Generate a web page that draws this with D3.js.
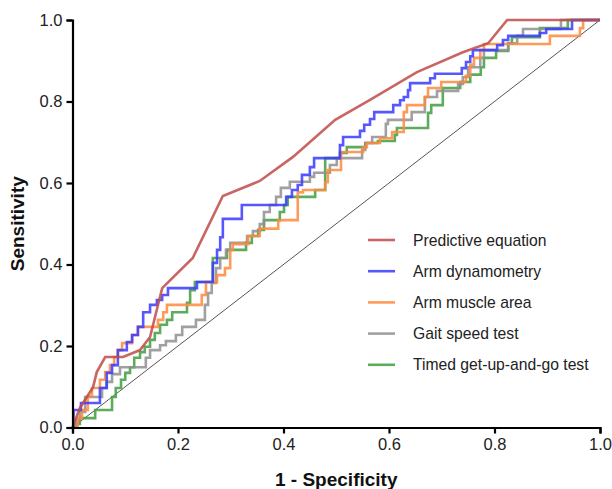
<!DOCTYPE html>
<html>
<head>
<meta charset="utf-8">
<script src="https://cdn.jsdelivr.net/npm/d3@7"></script>
<style>
  body { margin: 0; background: #fff; }
  text { font-family: "Liberation Sans", Arial, sans-serif; }
</style>
</head>
<body>
<div id="chart"></div>
<script>
// ROC curves, [1 - specificity, sensitivity]
const predictive = [[0,0],[0.014,0.048],[0.039,0.099],[0.046,0.136],[0.062,0.173],[0.096,0.173],[0.128,0.190],[0.147,0.222],[0.170,0.342],[0.228,0.416],[0.285,0.568],[0.355,0.605],[0.418,0.664],[0.498,0.755],[0.564,0.804],[0.653,0.872],[0.740,0.921],[0.788,0.943],[0.824,1],[1,1]];

const armDynamometry = [[0,0],[0.002,0],[0.002,0.043],[0.016,0.043],[0.016,0.060],[0.052,0.060],[0.052,0.097],[0.065,0.097],[0.065,0.134],[0.075,0.134],[0.075,0.153],[0.086,0.153],[0.086,0.190],[0.103,0.190],[0.103,0.210],[0.113,0.210],[0.113,0.227],[0.124,0.227],[0.124,0.247],[0.134,0.247],[0.134,0.283],[0.147,0.283],[0.147,0.301],[0.160,0.301],[0.160,0.313],[0.170,0.313],[0.170,0.325],[0.181,0.325],[0.181,0.342],[0.236,0.342],[0.236,0.357],[0.266,0.357],[0.266,0.404],[0.274,0.404],[0.274,0.436],[0.280,0.436],[0.280,0.467],[0.285,0.467],[0.285,0.512],[0.321,0.512],[0.321,0.546],[0.405,0.546],[0.405,0.566],[0.416,0.566],[0.416,0.583],[0.427,0.583],[0.427,0.595],[0.435,0.595],[0.435,0.620],[0.450,0.620],[0.450,0.639],[0.458,0.639],[0.458,0.661],[0.507,0.661],[0.507,0.693],[0.513,0.693],[0.513,0.713],[0.545,0.713],[0.545,0.728],[0.553,0.728],[0.553,0.743],[0.564,0.743],[0.564,0.757],[0.572,0.757],[0.572,0.774],[0.608,0.774],[0.608,0.791],[0.621,0.791],[0.621,0.803],[0.628,0.803],[0.628,0.811],[0.636,0.811],[0.636,0.828],[0.640,0.828],[0.640,0.845],[0.678,0.845],[0.678,0.857],[0.687,0.857],[0.687,0.868],[0.738,0.868],[0.738,0.882],[0.746,0.882],[0.746,0.897],[0.754,0.897],[0.754,0.911],[0.759,0.911],[0.759,0.926],[0.805,0.926],[0.805,0.938],[0.816,0.938],[0.816,0.951],[0.826,0.951],[0.826,0.961],[0.886,0.961],[0.886,0.968],[0.898,0.968],[0.898,0.978],[0.947,0.978],[0.947,1],[1,1]];

const armMuscleArea = [[0,0],[0.010,0],[0.010,0.023],[0.018,0.023],[0.018,0.043],[0.029,0.043],[0.029,0.077],[0.037,0.077],[0.037,0.097],[0.052,0.097],[0.052,0.117],[0.062,0.117],[0.062,0.136],[0.071,0.136],[0.071,0.153],[0.079,0.153],[0.079,0.173],[0.086,0.173],[0.086,0.190],[0.094,0.190],[0.094,0.207],[0.113,0.207],[0.113,0.227],[0.124,0.227],[0.124,0.247],[0.162,0.247],[0.162,0.264],[0.172,0.264],[0.172,0.283],[0.179,0.283],[0.179,0.301],[0.245,0.301],[0.245,0.325],[0.253,0.325],[0.253,0.357],[0.274,0.357],[0.274,0.374],[0.289,0.374],[0.289,0.391],[0.299,0.391],[0.299,0.436],[0.304,0.436],[0.304,0.450],[0.333,0.450],[0.333,0.470],[0.355,0.470],[0.355,0.488],[0.390,0.488],[0.390,0.509],[0.427,0.509],[0.427,0.577],[0.437,0.577],[0.437,0.583],[0.479,0.583],[0.479,0.602],[0.484,0.602],[0.484,0.632],[0.509,0.632],[0.509,0.676],[0.551,0.676],[0.551,0.688],[0.558,0.688],[0.558,0.698],[0.583,0.698],[0.583,0.710],[0.606,0.710],[0.606,0.725],[0.628,0.725],[0.628,0.774],[0.634,0.774],[0.634,0.791],[0.668,0.791],[0.668,0.811],[0.674,0.811],[0.674,0.833],[0.699,0.833],[0.699,0.848],[0.746,0.848],[0.746,0.863],[0.754,0.863],[0.754,0.890],[0.761,0.890],[0.761,0.907],[0.773,0.907],[0.773,0.926],[0.780,0.926],[0.780,0.941],[0.905,0.941],[0.905,0.961],[0.962,0.961],[0.962,0.980],[0.968,0.980],[0.968,1],[1,1]];

const gaitSpeed = [[0,0],[0.007,0],[0.007,0.018],[0.014,0.018],[0.014,0.038],[0.024,0.038],[0.024,0.075],[0.056,0.075],[0.056,0.097],[0.064,0.097],[0.064,0.112],[0.075,0.112],[0.075,0.131],[0.090,0.131],[0.090,0.148],[0.139,0.148],[0.139,0.171],[0.147,0.171],[0.147,0.190],[0.166,0.190],[0.166,0.202],[0.177,0.202],[0.177,0.212],[0.196,0.212],[0.196,0.227],[0.208,0.227],[0.208,0.247],[0.234,0.247],[0.234,0.264],[0.251,0.264],[0.251,0.301],[0.257,0.301],[0.257,0.330],[0.264,0.330],[0.264,0.355],[0.272,0.355],[0.272,0.391],[0.280,0.391],[0.280,0.416],[0.291,0.416],[0.291,0.436],[0.299,0.436],[0.299,0.453],[0.331,0.453],[0.331,0.470],[0.342,0.470],[0.342,0.482],[0.355,0.482],[0.355,0.499],[0.363,0.499],[0.363,0.529],[0.374,0.529],[0.374,0.546],[0.386,0.546],[0.386,0.566],[0.395,0.566],[0.395,0.588],[0.412,0.588],[0.412,0.603],[0.450,0.603],[0.450,0.615],[0.458,0.615],[0.458,0.625],[0.488,0.625],[0.488,0.644],[0.501,0.644],[0.501,0.661],[0.549,0.661],[0.549,0.681],[0.555,0.681],[0.555,0.698],[0.568,0.698],[0.568,0.713],[0.594,0.713],[0.594,0.745],[0.598,0.745],[0.598,0.755],[0.643,0.755],[0.643,0.774],[0.668,0.774],[0.668,0.811],[0.691,0.811],[0.691,0.826],[0.731,0.826],[0.731,0.843],[0.740,0.843],[0.740,0.860],[0.750,0.860],[0.750,0.884],[0.773,0.884],[0.773,0.907],[0.780,0.907],[0.780,0.926],[0.826,0.926],[0.826,0.943],[0.843,0.943],[0.843,0.961],[0.854,0.961],[0.854,0.978],[0.926,0.978],[0.926,1],[1,1]];

const timedUpGo = [[0,0],[0.007,0],[0.007,0.009],[0.014,0.009],[0.014,0.023],[0.043,0.023],[0.043,0.043],[0.075,0.043],[0.075,0.075],[0.082,0.075],[0.082,0.097],[0.092,0.097],[0.092,0.117],[0.100,0.117],[0.100,0.134],[0.109,0.134],[0.109,0.148],[0.117,0.148],[0.117,0.171],[0.128,0.171],[0.128,0.185],[0.137,0.185],[0.137,0.198],[0.147,0.198],[0.147,0.215],[0.156,0.215],[0.156,0.232],[0.166,0.232],[0.166,0.252],[0.179,0.252],[0.179,0.264],[0.189,0.264],[0.189,0.283],[0.217,0.283],[0.217,0.306],[0.223,0.306],[0.223,0.337],[0.232,0.337],[0.232,0.357],[0.266,0.357],[0.266,0.416],[0.293,0.416],[0.293,0.436],[0.329,0.436],[0.329,0.453],[0.340,0.453],[0.340,0.470],[0.352,0.470],[0.352,0.485],[0.363,0.485],[0.363,0.509],[0.393,0.509],[0.393,0.529],[0.401,0.529],[0.401,0.546],[0.408,0.546],[0.408,0.566],[0.460,0.566],[0.460,0.583],[0.479,0.583],[0.479,0.661],[0.507,0.661],[0.507,0.674],[0.520,0.674],[0.520,0.688],[0.555,0.688],[0.555,0.698],[0.579,0.698],[0.579,0.703],[0.611,0.703],[0.611,0.718],[0.615,0.718],[0.615,0.735],[0.674,0.735],[0.674,0.772],[0.680,0.772],[0.680,0.791],[0.702,0.791],[0.702,0.833],[0.735,0.833],[0.735,0.848],[0.754,0.848],[0.754,0.866],[0.774,0.866],[0.774,0.884],[0.780,0.884],[0.780,0.907],[0.803,0.907],[0.803,0.924],[0.826,0.924],[0.826,0.943],[0.833,0.943],[0.833,0.958],[0.886,0.958],[0.886,0.980],[0.939,0.980],[0.939,1],[1,1]];

const seriesNames = ["Predictive equation", "Arm dynamometry", "Arm muscle area", "Gait speed test", "Timed get-up-and-go test"];
const seriesColors = ["#bf4a48", "#3a3aff", "#ff8a3d", "#8f8f8f", "#3f9e3f"];
const tickValues = [0, 0.2, 0.4, 0.6, 0.8, 1.0];

const width = 612, height = 489;
const margin = {top: 20, right: 12, bottom: 61.5, left: 72.5};

const svg = d3.select("#chart").append("svg")
    .attr("width", width)
    .attr("height", height);

const x = d3.scaleLinear().domain([0, 1]).range([margin.left, width - margin.right]);
const y = d3.scaleLinear().domain([0, 1]).range([height - margin.bottom, margin.top]);

// reference diagonal
svg.append("line")
    .attr("x1", x(0)).attr("y1", y(0))
    .attr("x2", x(1)).attr("y2", y(1))
    .attr("stroke", "#555")
    .attr("stroke-width", 1);

let line = d3.line()
    .x(function(d){ return x(d[0]); })
    .y(function(d){ return y(d[1]); });

// draw back to front
let allSeries = [predictive, armDynamometry, armMuscleArea, gaitSpeed, timedUpGo];
[4, 3, 2, 1, 0].forEach(function(i){
    svg.append("path")
        .attr("d", line(allSeries[i]))
        .attr("fill", "none")
        .attr("stroke", seriesColors[i])
        .attr("stroke-width", 2.6)
        .attr("stroke-opacity", 0.85)
        .attr("stroke-linejoin", "miter");
});

// axes
let xAxis = svg.append("g")
    .attr("transform", "translate(0," + y(0) + ")")
    .call(d3.axisBottom(x).tickValues(tickValues).tickFormat(d3.format(".1f")).tickSize(6).tickPadding(5));
let yAxis = svg.append("g")
    .attr("transform", "translate(" + x(0) + ",0)")
    .call(d3.axisLeft(y).tickValues(tickValues).tickFormat(d3.format(".1f")).tickSize(6).tickPadding(4));

[xAxis, yAxis].forEach(function(ax){
    ax.select(".domain").attr("stroke", "#000").attr("stroke-width", 2.2);
    ax.selectAll(".tick line").attr("stroke", "#000").attr("stroke-width", 2.2);
    ax.selectAll(".tick text")
        .attr("fill", "#222")
        .style("font-size", "16.5px")
        .style("font-family", "Liberation Sans, Arial, sans-serif");
});

// axis titles
svg.append("text")
    .text("1 - Specificity")
    .attr("x", x(0.5))
    .attr("y", 486)
    .attr("text-anchor", "middle")
    .style("font-size", "19px")
    .style("font-weight", "bold")
    .attr("fill", "#111");

svg.append("text")
    .text("Sensitivity")
    .attr("transform", "translate(24," + y(0.5) + ") rotate(-90)")
    .attr("text-anchor", "middle")
    .style("font-size", "19px")
    .style("font-weight", "bold")
    .attr("fill", "#111");

// legend
let legend = svg.append("g").attr("transform", "translate(368,240)");
seriesNames.forEach(function(name, i){
    let row = legend.append("g").attr("transform", "translate(0," + (i * 31.2) + ")");
    row.append("line")
        .attr("x1", 0).attr("x2", 27)
        .attr("y1", 0).attr("y2", 0)
        .attr("stroke", seriesColors[i])
        .attr("stroke-width", 2.6)
        .attr("stroke-opacity", 0.85);
    row.append("text")
        .text(name)
        .attr("x", 45)
        .attr("y", 5.5)
        .style("font-size", "15.7px")
        .attr("fill", "#222");
});
</script>
</body>
</html>
